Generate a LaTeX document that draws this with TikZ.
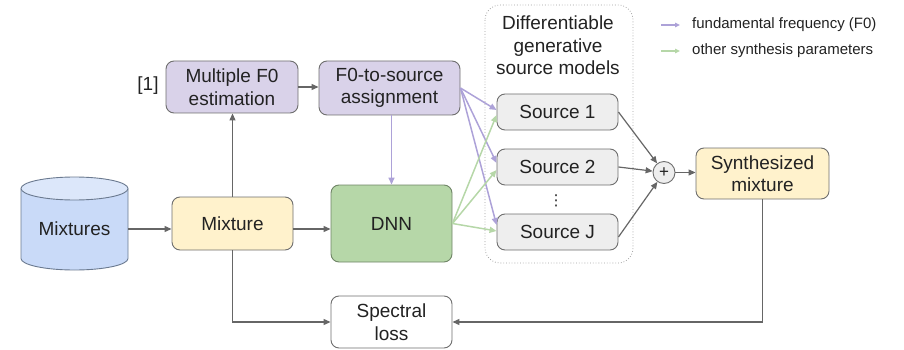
\documentclass[tikz,border=0pt]{standalone}
\usepackage{fontspec}
\setmainfont{Liberation Sans}
\newfontfamily\symfont{DejaVu Sans}
\usetikzlibrary{arrows.meta}
\definecolor{txt}{HTML}{222222}
\definecolor{boxline}{HTML}{6E6E6E}
\definecolor{arrgray}{HTML}{666666}
\definecolor{lav}{HTML}{D9D2E9}
\definecolor{purp}{HTML}{ADA2D8}
\definecolor{grn}{HTML}{B6D7A8}
\definecolor{dnnfill}{HTML}{B6D7A8}
\definecolor{dnnline}{HTML}{6F8466}
\definecolor{yel}{HTML}{FFF2CC}
\definecolor{srcfill}{HTML}{EEEEEE}
\definecolor{cylbody}{HTML}{C9DAF8}
\definecolor{cyltop}{HTML}{DCE7FA}
\definecolor{cylline}{HTML}{6B7A90}
\definecolor{dotline}{HTML}{A0A0A0}
\begin{document}
\begin{tikzpicture}[x=1pt,y=-1pt,
  font=\fontsize{19}{22.5}\selectfont, text=txt,
  box/.style={draw=boxline, line width=0.9pt, rounded corners=8pt, align=center, inner sep=0pt},
  garrow/.style={draw=arrgray, line width=1.2pt, -{Triangle[length=7pt,width=6pt]}},
  parrow/.style={draw=purp, line width=1.5pt, -{Triangle[length=7pt,width=6pt]}},
  grarrow/.style={draw=grn, line width=1.5pt, -{Triangle[length=7pt,width=6pt]}},
  legtext/.style={font=\fontsize{15}{17}\selectfont, anchor=west, inner sep=0pt}]
\useasboundingbox (0,0) rectangle (904,350);

% container
\draw[dotline, line width=0.8pt, dash pattern=on 0.8pt off 2pt, rounded corners=15pt] (485,5) rectangle (633,263);
\node[align=center, inner sep=0pt] (title) at (558,45.5) {Differentiable\\generative\\source models};

% cylinder
\fill[cylbody] (21,188.5) -- (21,258.5) arc[start angle=180,end angle=360,x radius=53.5pt,y radius=11.5pt] -- (128,188.5) -- cycle;
\draw[cylline, line width=0.9pt] (21,188.5) -- (21,258.5) arc[start angle=180,end angle=360,x radius=53.5pt,y radius=11.5pt] -- (128,188.5);
\filldraw[fill=cyltop, draw=cylline, line width=0.9pt] (74.5,188.5) ellipse[x radius=53.5pt, y radius=11.5pt];
\node[inner sep=0pt, minimum width=107pt, minimum height=20pt] (mixtures) at (74.5,229) {Mixtures};

% boxes
\node[box, fill=yel, minimum width=121pt, minimum height=53pt] (mixture) at (232.5,223.5) {Mixture};
\node[box, fill=dnnfill, draw=dnnline, minimum width=121pt, minimum height=77pt] (dnn) at (391.5,223.5) {DNN};
\node[box, fill=white, minimum width=121pt, minimum height=52pt] (loss) at (391.5,322) {Spectral\\loss};
\node[box, fill=lav, minimum width=132pt, minimum height=52pt] (mf0) at (232,87) {Multiple F0\\estimation};
\node[box, fill=lav, minimum width=141pt, minimum height=54pt] (f0s) at (389.5,88) {F0-to-source\\assignment};
\node[inner sep=0pt] (cite) at (148,86) {[1]};

\node[box, fill=srcfill, minimum width=121pt, minimum height=36pt] (src1) at (557.5,112) {Source 1};
\node[box, fill=srcfill, minimum width=121pt, minimum height=36pt] (src2) at (557.5,167) {Source 2};
\node[box, fill=srcfill, minimum width=121pt, minimum height=36pt] (srcJ) at (557.5,232) {Source J};
\node[inner sep=0pt, font=\symfont\fontsize{15}{16}\selectfont] (dots) at (556,201) {⋮};

\node[circle, draw=boxline, fill=srcfill, line width=0.9pt, minimum size=22pt, inner sep=0pt, font=\fontsize{17}{18}\selectfont] (plus) at (664,172.5) {+};
\node[box, fill=yel, minimum width=133pt, minimum height=51pt] (synth) at (762.5,173.5) {Synthesized\\mixture};

% legend
\coordinate (lpa) at (661,25);
\coordinate (lpb) at (680,25);
\coordinate (lga) at (661,51);
\coordinate (lgb) at (680,51);
\draw[parrow, line width=1.3pt, -{Triangle[length=5pt,width=4.5pt]}] (lpa) -- (lpb);
\draw[grarrow, line width=1.3pt, -{Triangle[length=5pt,width=4.5pt]}] (lga) -- (lgb);
\node[legtext] (leg1) at (692,25) {fundamental frequency (F0)};
\node[legtext] (leg2) at (692,51) {other synthesis parameters};

% gray connectors
\coordinate (mixout) at ([yshift=-5.5pt]mixture.east);
\draw[garrow] (mixtures.east) -- (mixture.west |- mixtures.east);
\draw[garrow] (mixout) -- (dnn.west |- mixout);
\draw[garrow] (mixture.north) -- (mixture.north |- mf0.south);
\draw[garrow] (mixture.south) |- (loss.west);
\draw[garrow] (synth.south) |- (loss.east);
\draw[garrow] (mf0.east) -- (f0s.west |- mf0.east);
\draw[garrow] (src1.east) -- (plus);
\draw[garrow] (src2.east) -- (plus);
\draw[garrow] ([yshift=-5pt]srcJ.east) -- (plus);
\draw[garrow] (plus) -- (synth.west |- plus);

% purple connectors
\draw[parrow] (dnn.north |- f0s.south) -- (dnn.north);
\draw[parrow] (f0s.east) -- ([yshift=2pt]src1.west);
\draw[parrow] (f0s.east) -- ([yshift=4pt]src2.west);
\draw[parrow] (f0s.east) -- ([yshift=7pt]srcJ.west);

% green connectors
\draw[grarrow] (dnn.east) -- ([yshift=-3pt]src1.west);
\draw[grarrow] (dnn.east) -- ([yshift=-3pt]src2.west);
\draw[grarrow] (dnn.east) -- ([yshift=1pt]srcJ.west);
\end{tikzpicture}
\end{document}
